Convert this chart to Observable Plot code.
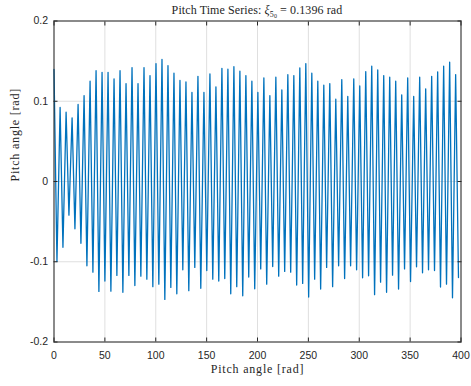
<!DOCTYPE html>
<html><head><meta charset="utf-8">
<script src="https://cdn.jsdelivr.net/npm/d3@7"></script>
<script src="https://cdn.jsdelivr.net/npm/@observablehq/plot@0.6"></script>
<style>html,body{margin:0;padding:0;background:#fff}</style>
</head><body><div id="chart"></div>
<script>
const initialPitch = 0.1396;
const peakValues = [0.0923,0.0864,0.0794,0.096,0.107,0.125,0.138,0.136,0.136,0.128,0.138,0.122,0.142,0.122,0.142,0.132,0.147,0.152,0.1445,0.135,0.126,0.124,0.111,0.131,0.111,0.134,0.118,0.141,0.140,0.143,
  0.1374,0.132,0.125,0.111,0.129,0.107,0.130,0.114,0.133,0.132,0.1415,0.147,0.135,0.125,0.120,0.122,0.1026,0.127,0.106,0.128,0.119,0.137,0.1437,0.139,0.132,0.130,0.125,0.108,0.129,0.106,0.130,0.1155,0.131,0.1367,0.1437,0.1486,0.1333];
const troughValues = [-0.0997,-0.082,-0.042,-0.059,-0.077,-0.105,-0.113,-0.137,-0.124,-0.1366,-0.117,-0.138,-0.117,-0.1296,-0.118,-0.1217,-0.131,-0.128,-0.147,-0.132,-0.140,-0.110,-0.136,-0.107,-0.133,-0.111,-0.1217,-0.124,-0.121,-0.140,-0.131,
  -0.1424,-0.119,-0.1337,-0.109,-0.128,-0.106,-0.118,-0.112,-0.113,-0.129,-0.127,-0.144,-0.1217,-0.134,-0.107,-0.131,-0.105,-0.121,-0.105,-0.110,-0.120,-0.1175,-0.141,-0.1254,-0.138,-0.1167,-0.134,-0.109,-0.1246,-0.1063,-0.1138,-0.110,-0.111,-0.1316,-0.128,-0.145,-0.1196];
const samplePeriod = 5.89;
const firstTroughTime = 2.9;
const firstPeakTime = 6.0;
const xTicks = [0,50,100,150,200,250,300,350,400];
const yTicks = [-0.2,-0.1,0,0.1,0.2];
const yTickLabels = ["-0.2","-0.1","0","0.1","0.2"];
const titleParts = ["Pitch Time Series: ", "ξ", "5", "0", " = 0.1396 rad"];
const xLabel = "Pitch angle [rad]";
const yLabel = "Pitch angle [rad]";

const series = [{t: 0, v: initialPitch}];
troughValues.forEach((v, k) => {
  series.push({t: firstTroughTime + k * samplePeriod, v});
  if (k < peakValues.length) series.push({t: firstPeakTime + k * samplePeriod, v: peakValues[k]});
});

const ink = "#262626";
const sans = "'Liberation Sans', Arial, Helvetica, sans-serif";
const serif = "'Liberation Serif', 'Times New Roman', serif";
const yFmt = d => yTickLabels[yTicks.indexOf(d)];
const blank = () => "";

const plot = Plot.plot({
  width: 471, height: 386,
  marginTop: 20.5, marginRight: 10.5, marginBottom: 44.5, marginLeft: 53.5,
  style: {fontFamily: sans, fontSize: "10px", color: ink, background: "#fff"},
  x: {domain: [0, 400]},
  y: {domain: [-0.2, 0.2]},
  marks: [
    Plot.gridX(xTicks, {stroke: "#dfdfdf", strokeOpacity: 1}),
    Plot.gridY(yTicks, {stroke: "#dfdfdf", strokeOpacity: 1}),
    Plot.line(series, {x: "t", y: "v", stroke: "#0072BD", strokeWidth: 1.3}),
    Plot.frame({stroke: ink, strokeWidth: 1}),
    Plot.axisX(xTicks, {anchor: "bottom", tickSize: 0, tickPadding: 10, label: null, fontSize: 10.5}),
    Plot.axisX(xTicks, {anchor: "bottom", tickSize: -4, tickFormat: blank, label: null, stroke: ink}),
    Plot.axisX(xTicks, {anchor: "top", tickSize: -4, tickFormat: blank, label: null, stroke: ink}),
    Plot.axisY(yTicks, {anchor: "left", tickSize: 0, tickPadding: 6, tickFormat: yFmt, label: null, fontSize: 10.5}),
    Plot.axisY(yTicks, {anchor: "left", tickSize: -4, tickFormat: blank, label: null, stroke: ink}),
    Plot.axisY(yTicks, {anchor: "right", tickSize: -4, tickFormat: blank, label: null, stroke: ink}),
    Plot.text([xLabel], {frameAnchor: "bottom", dy: 31, text: d => d, fontFamily: serif, fontSize: 12, fill: ink}),
    Plot.text([yLabel], {frameAnchor: "left", dx: -39, rotate: -90, text: d => d, fontFamily: serif, fontSize: 12, fill: ink})
  ]
});

const svg = d3.select(plot);
svg.selectAll("text").filter(function() { return this.textContent === xLabel; }).style("letter-spacing", "0.8px");
const title = svg.append("text")
  .attr("x", (53.5 + 460.5) / 2).attr("y", 14)
  .attr("text-anchor", "middle")
  .attr("font-family", serif).attr("font-size", 12).attr("fill", ink)
  .style("letter-spacing", "0.1px");
title.append("tspan").text(titleParts[0]);
title.append("tspan").attr("font-style", "italic").text(titleParts[1]);
title.append("tspan").attr("font-size", 8).attr("dy", 2.5).text(titleParts[2]);
title.append("tspan").attr("font-size", 6).attr("dy", 1.2).text(titleParts[3]);
title.append("tspan").attr("dy", -3.7).text(titleParts[4]);

document.getElementById("chart").appendChild(plot);
</script>
</body></html>
